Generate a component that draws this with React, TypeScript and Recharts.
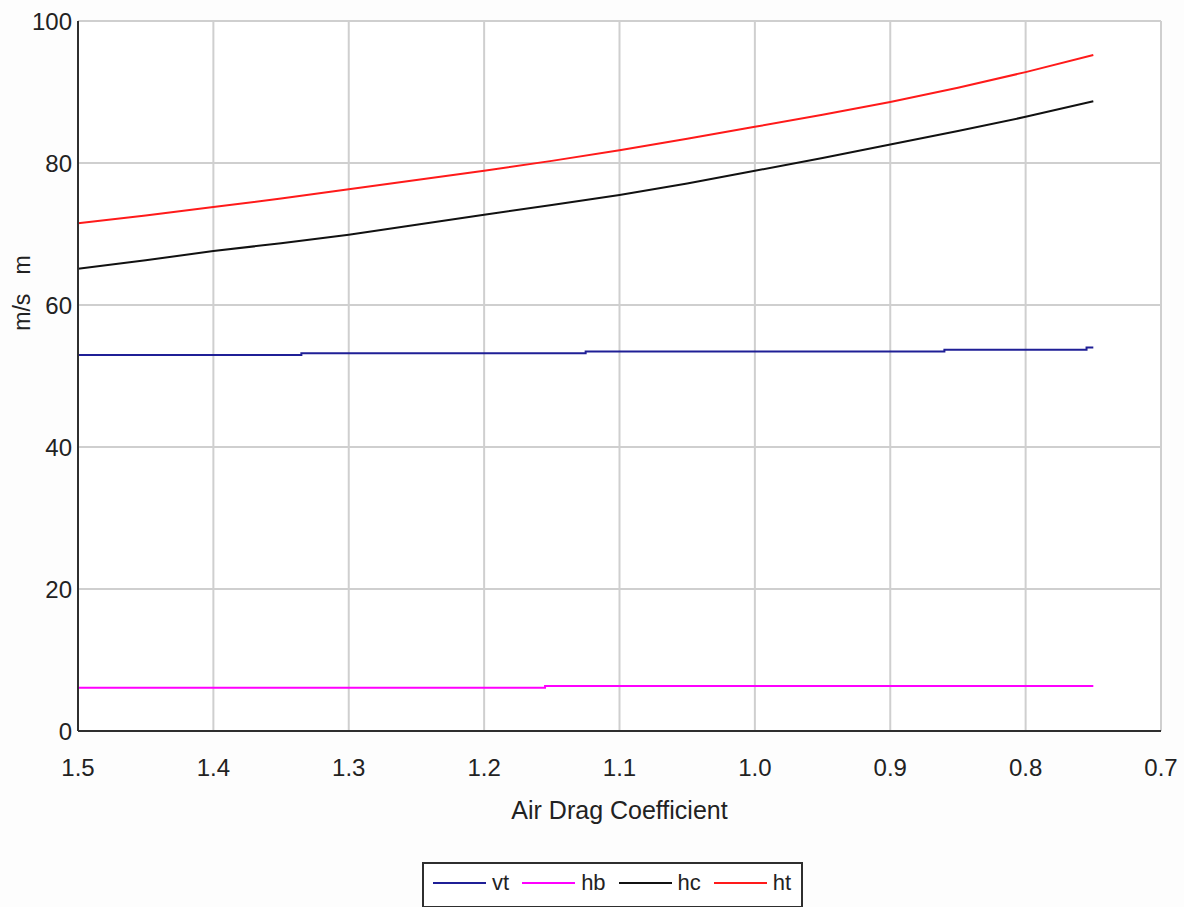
import { LineChart, Line, XAxis, YAxis, CartesianGrid, Legend, Label } from 'recharts';

const dragX = [1.5, 1.45, 1.4, 1.35, 1.3, 1.25, 1.2, 1.15, 1.1, 1.05, 1.0, 0.95, 0.9, 0.85, 0.8, 0.75];
const htValues = [71.5, 72.6, 73.8, 75.0, 76.3, 77.6, 78.9, 80.3, 81.8, 83.4, 85.1, 86.8, 88.6, 90.6, 92.8, 95.2];
const hcValues = [65.1, 66.3, 67.6, 68.7, 69.9, 71.3, 72.7, 74.1, 75.5, 77.1, 78.9, 80.7, 82.6, 84.5, 86.5, 88.7];
const vtX = [1.5, 1.335, 1.125, 0.86, 0.755, 0.75];
const vtValues = [52.95, 53.2, 53.45, 53.7, 54.0, 54.0];
const hbX = [1.5, 1.155, 0.75];
const hbValues = [6.1, 6.35, 6.35];
const xTicks = [1.5, 1.4, 1.3, 1.2, 1.1, 1.0, 0.9, 0.8, 0.7];
const yTicks = [0, 20, 40, 60, 80, 100];
const seriesOrder = ['vt', 'hb', 'hc', 'ht'];

const FONT = '"Liberation Sans", Arial, sans-serif';
const AXIS = '#2e2e2e';

const toPoints = (xs: number[], ys: number[]) => xs.map((x, i) => ({ x, y: ys[i] }));

const htData = toPoints(dragX, htValues);
const hcData = toPoints(dragX, hcValues);
const vtData = toPoints(vtX, vtValues);
const hbData = toPoints(hbX, hbValues);

function BoxLegend({ payload }: { payload?: Array<{ value?: string; color?: string }> }) {
  if (!payload?.length) return null;
  const items = [...payload].sort(
    (a, b) => seriesOrder.indexOf(a.value ?? '') - seriesOrder.indexOf(b.value ?? '')
  );
  return (
    <div
      style={{
        display: 'flex',
        alignItems: 'center',
        border: `2px solid ${AXIS}`,
        background: '#fff',
        padding: '6px 10px 10px 9px',
        fontFamily: FONT,
        fontSize: 22,
        color: '#222',
        whiteSpace: 'nowrap',
      }}
    >
      {items.map((p, i) => (
        <div key={i} style={{ display: 'flex', alignItems: 'center', marginRight: i < items.length - 1 ? 13 : 0 }}>
          <div style={{ width: 53, height: 2, background: p.color, marginRight: 6 }} />
          <span>{p.value}</span>
        </div>
      ))}
    </div>
  );
}

function YTitle() {
  return (
    <text
      x={22}
      y={293}
      transform="rotate(-90 22 293)"
      textAnchor="middle"
      dominantBaseline="central"
      fill="#222"
      fontSize={23}
      fontFamily={FONT}
      style={{ whiteSpace: 'pre' }}
    >
      {'m/s   m'}
    </text>
  );
}

export default function App() {
  return (
    <div style={{ position: 'absolute', left: 0, top: 0, width: 1184, height: 907, background: '#fdfdfd' }}>
      <LineChart width={1184} height={907} margin={{ top: 21, right: 23, left: 0, bottom: 76 }}>
        <CartesianGrid
          stroke="#cfcfcf"
          strokeWidth={2}
          fill="#ffffff"
          horizontalValues={yTicks}
          verticalValues={xTicks}
        />
        <XAxis
          dataKey="x"
          type="number"
          domain={[0.7, 1.5]}
          reversed
          ticks={xTicks}
          tickFormatter={(v: number) => v.toFixed(1)}
          height={100}
          tickSize={6}
          tickMargin={22}
          tickLine={false}
          axisLine={{ stroke: AXIS, strokeWidth: 2 }}
          tick={{ fill: '#222', fontSize: 24, fontFamily: FONT }}
          interval={0}
          allowDataOverflow
        >
          <Label
            value="Air Drag Coefficient"
            position="insideBottom"
            offset={12}
            style={{ fill: '#222', fontSize: 25, fontFamily: FONT }}
          />
        </XAxis>
        <XAxis
          xAxisId="top"
          orientation="top"
          type="number"
          domain={[0.7, 1.5]}
          reversed
          height={0}
          tick={false}
          tickLine={false}
          axisLine={{ stroke: AXIS, strokeWidth: 2 }}
        />
        <YAxis
          type="number"
          domain={[0, 100]}
          ticks={yTicks}
          width={78}
          tickSize={0}
          tickMargin={6}
          tickLine={false}
          axisLine={{ stroke: AXIS, strokeWidth: 2 }}
          tick={{ fill: '#222', fontSize: 24, fontFamily: FONT }}
          interval={0}
        >
          <Label content={() => <YTitle />} />
        </YAxis>
        <YAxis
          yAxisId="right"
          orientation="right"
          type="number"
          domain={[0, 100]}
          width={0}
          tick={false}
          tickLine={false}
          axisLine={{ stroke: AXIS, strokeWidth: 2 }}
        />
        <Line data={vtData} dataKey="y" name="vt" type="stepAfter" stroke="#1f1f96" strokeWidth={2} dot={false} isAnimationActive={false} />
        <Line data={hbData} dataKey="y" name="hb" type="stepAfter" stroke="#ff00ff" strokeWidth={2} dot={false} isAnimationActive={false} />
        <Line data={hcData} dataKey="y" name="hc" type="linear" stroke="#111111" strokeWidth={2} dot={false} isAnimationActive={false} />
        <Line data={htData} dataKey="y" name="ht" type="linear" stroke="#ff1a1a" strokeWidth={2} dot={false} isAnimationActive={false} />
        <Legend
          layout="vertical"
          align="center"
          verticalAlign="middle"
          content={<BoxLegend />}
          wrapperStyle={{ left: 422, top: 862, width: 'auto' }}
        />
      </LineChart>
    </div>
  );
}
